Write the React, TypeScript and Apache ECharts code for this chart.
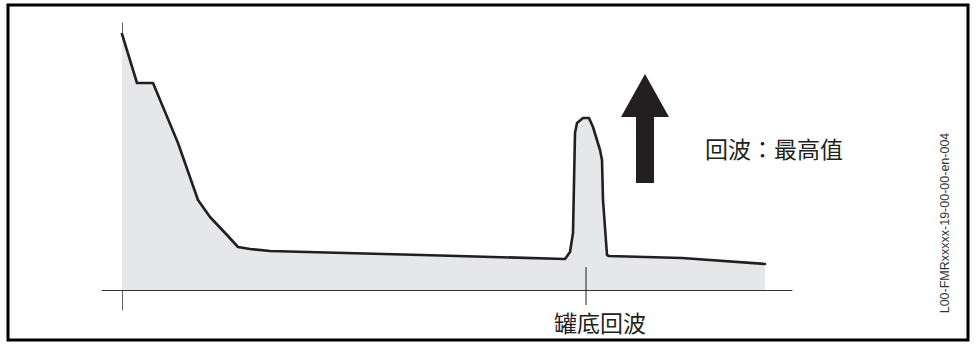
import React, { useEffect, useRef } from "react";
import * as echarts from "echarts";

// Echo curve (distance along x, amplitude along y)
const curveX = [0, 15, 31, 56, 76, 88, 105, 116, 128, 148, 300, 443, 448, 451, 453, 455, 461, 467, 471, 478, 480, 481, 485, 487, 560, 643];
const curveY = [256, 207, 207, 147, 90, 73, 55, 43, 41, 39, 35, 31, 38, 57, 157, 167, 172, 172, 163, 140, 130, 90, 35, 34, 32, 26];

// Tank-bottom marker position
const bottomMarkerX = [464, 464];
const bottomMarkerY = [23, -15];

const labelMax = "回波：最高值";
const labelBottom = "罐底回波";
const figureCode = "L00-FMRxxxxx-19-00-00-en-004";

export default function App() {
  const ref = useRef<HTMLDivElement>(null);

  useEffect(() => {
    if (!ref.current) return;
    const chart = echarts.init(ref.current, undefined, { renderer: "svg" });
    const dark = "#231f20";
    const cjk = "'Noto Sans CJK TC', 'Noto Sans CJK SC', 'Noto Sans', sans-serif";
    chart.setOption({
      animation: false,
      backgroundColor: "#ffffff",
      grid: { left: 102, right: 185, top: 23, bottom: 35 },
      xAxis: {
        type: "value",
        min: -20,
        max: 670,
        axisLine: { show: true, onZero: true, lineStyle: { color: "#333333", width: 1 } },
        axisTick: { show: false },
        axisLabel: { show: false },
        splitLine: { show: false },
      },
      yAxis: {
        type: "value",
        min: -20,
        max: 267,
        axisLine: { show: true, onZero: true, lineStyle: { color: "#666666", width: 1 } },
        axisTick: { show: false },
        axisLabel: { show: false },
        splitLine: { show: false },
      },
      series: [
        {
          type: "line",
          data: curveX.map((x, i) => [x, curveY[i]]),
          showSymbol: false,
          smooth: false,
          lineStyle: { color: dark, width: 2.6, join: "round", cap: "round" },
          areaStyle: { color: "#e6e7e8", opacity: 1, origin: 0 },
          z: 1,
        },
        {
          type: "line",
          data: bottomMarkerX.map((x, i) => [x, bottomMarkerY[i]]),
          showSymbol: false,
          lineStyle: { color: dark, width: 1 },
          z: 3,
        },
      ],
      graphic: [
        {
          type: "rect",
          shape: { x: 8, y: 5, width: 960, height: 335 },
          style: { fill: "none", stroke: "#000000", lineWidth: 3 },
          silent: true,
        },
        {
          type: "polygon",
          shape: {
            points: [
              [645, 74],
              [669, 117],
              [654, 117],
              [654, 183],
              [636, 183],
              [636, 117],
              [621, 117],
            ],
          },
          style: { fill: dark },
        },
        {
          type: "text",
          x: 705,
          y: 148,
          style: {
            text: labelMax,
            font: `23px ${cjk}`,
            fill: dark,
            textAlign: "left",
            textVerticalAlign: "middle",
            verticalAlign: "middle",
          },
        },
        {
          type: "text",
          x: 600,
          y: 322,
          style: {
            text: labelBottom,
            font: `23px ${cjk}`,
            fill: dark,
            textAlign: "center",
            textVerticalAlign: "middle",
            verticalAlign: "middle",
          },
        },
        {
          type: "text",
          x: 945,
          y: 223,
          rotation: Math.PI / 2,
          style: {
            text: figureCode,
            font: "12.5px 'Liberation Sans', Arial, sans-serif",
            fill: "#333333",
            textAlign: "center",
            textVerticalAlign: "middle",
            verticalAlign: "middle",
          },
        },
      ],
    });
    return () => chart.dispose();
  }, []);

  return (
    <div
      ref={ref}
      style={{ position: "fixed", left: 0, top: 0, width: 977, height: 345 }}
    />
  );
}
